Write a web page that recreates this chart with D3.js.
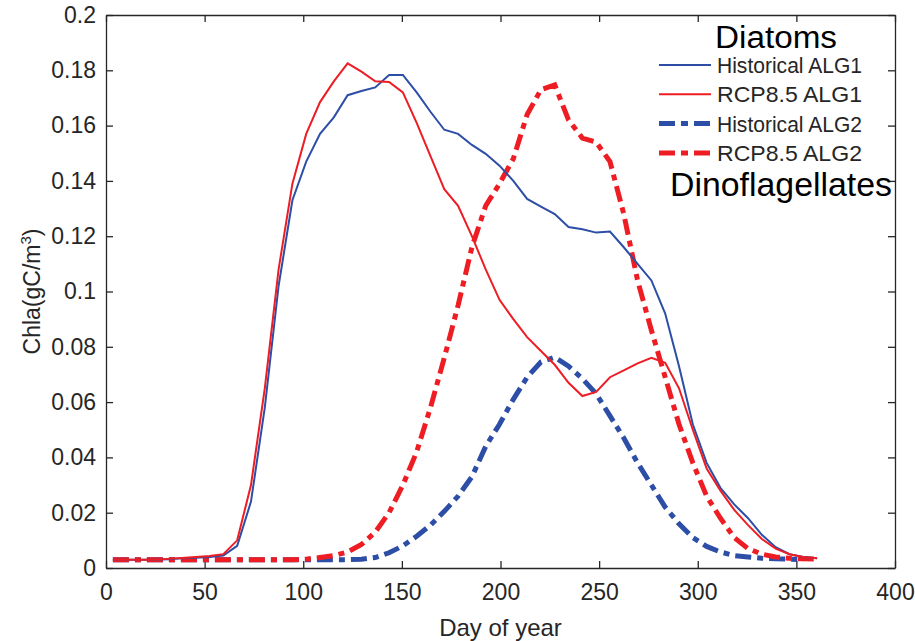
<!DOCTYPE html>
<html>
<head>
<meta charset="utf-8">
<script src="https://cdn.jsdelivr.net/npm/d3@7"></script>
<style>
  body { margin: 0; background: #fff; }
  svg { display: block; }
  text { font-family: "Liberation Sans", Arial, sans-serif; fill: #262626; }
</style>
</head>
<body>
<svg id="chart" width="915" height="641"></svg>
<script>
// day of year (weekly samples)
const days = [3.5,10.5,17.5,24.5,31.5,38.5,45.5,52.5,59.5,66.5,73.5,80.5,87.5,94.5,101.5,108.5,
  115.5,122.5,129.5,136.5,143.5,150.5,157.5,164.5,171.5,178.5,185.5,192.5,199.5,206.5,213.5,220.5,
  227.5,234.5,241.5,248.5,255.5,262.5,269.5,276.5,283.5,290.5,297.5,304.5,311.5,318.5,325.5,332.5,
  339.5,346.5,353.5,360.5];

const histALG1 = [0.003,0.003,0.003,0.003,0.0032,0.0035,0.0037,0.004,0.0045,0.008,0.024,0.058,0.102,0.133,
  0.147,0.157,0.163,0.171,0.1725,0.1738,0.1783,0.1783,0.172,0.165,0.1585,0.157,0.153,0.1498,0.1455,0.14,
  0.1335,0.1307,0.128,0.1233,0.1225,0.1213,0.1217,0.116,0.110,0.104,0.092,0.073,0.052,0.038,0.029,0.023,
  0.018,0.012,0.0075,0.005,0.004,0.0035];

const rcpALG1 = [0.003,0.003,0.003,0.003,0.0033,0.0036,0.004,0.0043,0.005,0.010,0.030,0.065,0.108,0.139,
  0.157,0.1685,0.176,0.1825,0.1795,0.176,0.1758,0.172,0.161,0.149,0.137,0.131,0.12,0.108,0.097,0.09,
  0.0835,0.0785,0.0735,0.067,0.0622,0.0637,0.069,0.0715,0.074,0.076,0.0742,0.065,0.05,0.036,0.028,0.021,
  0.0155,0.0105,0.007,0.005,0.004,0.0035];

const histALG2 = [0.003,0.003,0.003,0.003,0.003,0.003,0.003,0.003,0.003,0.003,0.003,0.003,0.003,0.003,
  0.003,0.003,0.003,0.003,0.0032,0.0038,0.0055,0.008,0.0115,0.0155,0.0205,0.026,0.033,0.044,0.052,0.061,
  0.069,0.0745,0.0762,0.073,0.0685,0.063,0.055,0.047,0.038,0.03,0.022,0.016,0.011,0.0078,0.0058,0.0045,
  0.004,0.0035,0.0033,0.0032,0.003,null];

const rcpALG2 = [0.003,0.003,0.003,0.003,0.003,0.003,0.003,0.003,0.003,0.003,0.003,0.003,0.003,0.003,
  0.0032,0.0038,0.0045,0.0058,0.0085,0.013,0.02,0.03,0.042,0.058,0.076,0.095,0.116,0.131,0.139,0.148,
  0.164,0.173,0.1747,0.162,0.1555,0.154,0.147,0.128,0.104,0.086,0.069,0.052,0.038,0.026,0.018,0.011,
  0.007,0.005,0.004,0.0035,0.0033,0.0032];

const xTicks = [0,50,100,150,200,250,300,350,400];
const yTicks = [0,0.02,0.04,0.06,0.08,0.1,0.12,0.14,0.16,0.18,0.2];

const seriesNames = ["Historical ALG1","RCP8.5 ALG1","Historical ALG2","RCP8.5 ALG2"];
const seriesValues = [histALG1, rcpALG1, histALG2, rcpALG2];

const BLUE = "#2d4ea6", RED = "#ee1d24";
const styles = [
  {color: BLUE, width: 2, dash: null},
  {color: RED, width: 2, dash: null},
  {color: BLUE, width: 5, dash: "16,6,6,6"},
  {color: RED, width: 5, dash: "16,6,6,6"}
];

const margin = {top: 15, right: 20, bottom: 73, left: 106};
const width = 915, height = 641;
const svg = d3.select("#chart");

const x = d3.scaleLinear().domain([0, 400]).range([margin.left, width - margin.right]);
const y = d3.scaleLinear().domain([0, 0.2]).range([height - margin.bottom, margin.top]);

const fmt = d => d === 0 ? "0" : String(+d.toFixed(2));

// axes (ticks inside, box on all sides)
svg.append("g")
  .attr("transform", `translate(0,${y(0)})`)
  .call(d3.axisBottom(x).tickValues(xTicks).tickSize(-7).tickPadding(16).tickSizeOuter(0))
  .call(g => g.selectAll("text").attr("font-size", 23).attr("dy", "0.71em"));

svg.append("g")
  .attr("transform", `translate(${x(0)},0)`)
  .call(d3.axisLeft(y).tickValues(yTicks).tickFormat(fmt).tickSize(-7).tickPadding(10).tickSizeOuter(0))
  .call(g => g.selectAll("text").attr("font-size", 23));

svg.append("g")
  .attr("transform", `translate(0,${y(0.2)})`)
  .call(d3.axisTop(x).tickValues(xTicks).tickSize(-7).tickFormat("").tickSizeOuter(0));

svg.append("g")
  .attr("transform", `translate(${x(400)},0)`)
  .call(d3.axisRight(y).tickValues(yTicks).tickSize(-7).tickFormat("").tickSizeOuter(0));

svg.selectAll(".domain, .tick line").attr("stroke", "#262626").attr("stroke-width", 1.3);

// lines
const line = d3.line()
  .defined(d => d[1] != null)
  .x(d => x(d[0]))
  .y(d => y(d[1]));

// draw dashed first, thin on top
[2, 3, 0, 1].forEach(i => {
  svg.append("path")
    .datum(days.map((dd, k) => [dd, seriesValues[i][k]]))
    .attr("fill", "none")
    .attr("stroke", styles[i].color)
    .attr("stroke-width", styles[i].width)
    .attr("stroke-dasharray", styles[i].dash)
    .attr("d", line);
});

// legend
const legend = svg.append("g");
seriesNames.forEach((name, i) => {
  const yy = 65 + i * 29.3;
  legend.append("line")
    .attr("x1", 659).attr("x2", 711).attr("y1", yy).attr("y2", yy)
    .attr("stroke", styles[i].color)
    .attr("stroke-width", styles[i].width)
    .attr("stroke-dasharray", styles[i].dash ? "16,6,7,6" : null);
  legend.append("text")
    .attr("x", 717).attr("y", yy + 8)
    .attr("font-size", 21.5)
    .attr("textLength", 145).attr("lengthAdjust", "spacingAndGlyphs")
    .text(name);
});

svg.append("text")
  .attr("x", 715).attr("y", 48)
  .attr("font-family", "Lato, 'Open Sans', sans-serif")
  .attr("font-size", 31)
  .attr("textLength", 122).attr("lengthAdjust", "spacingAndGlyphs")
  .style("fill", "#000")
  .text("Diatoms");

svg.append("text")
  .attr("x", 670).attr("y", 196)
  .attr("font-family", "Lato, 'Open Sans', sans-serif")
  .attr("font-size", 33)
  .attr("textLength", 222).attr("lengthAdjust", "spacingAndGlyphs")
  .style("fill", "#000")
  .text("Dinoflagellates");

// axis titles
svg.append("text")
  .attr("x", (x(0) + x(400)) / 2).attr("y", 636)
  .attr("text-anchor", "middle")
  .attr("font-size", 24)
  .text("Day of year");

const yl = svg.append("text")
  .attr("transform", `translate(40,${(y(0) + y(0.2)) / 2}) rotate(-90)`)
  .attr("text-anchor", "middle")
  .attr("font-size", 23);
yl.append("tspan").text("Chla(gC/m");
yl.append("tspan").attr("font-size", 15).attr("dy", -9).text("3");
yl.append("tspan").attr("dy", 9).text(")");
</script>
</body>
</html>
